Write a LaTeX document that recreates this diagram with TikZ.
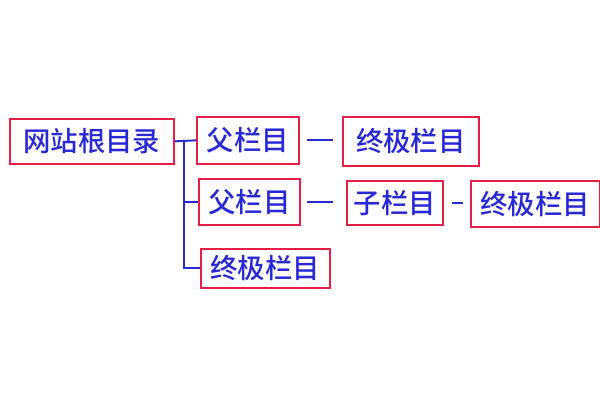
\documentclass[tikz,border=0pt]{standalone}
\usepackage{fontspec}
\newfontfamily\cjk{Noto Sans CJK SC Medium}
\begin{document}
\begin{tikzpicture}[x=0.025cm,y=-0.025cm]

	% colours
	\definecolor{lineBlue}{RGB}{40,40,215}
	\definecolor{boxRed}{RGB}{228,30,70}
	\tikzset{
		dirBox/.style={draw=boxRed, line width=1.2pt, text=lineBlue, font=\cjk\fontsize{19.5}{20}\selectfont,
			inner sep=0pt, anchor=north west},
		link/.style={lineBlue, line width=1.4pt}
	}
	\useasboundingbox (0,0) rectangle (600,400);

	% boxes, placed at the pixel corners of the original
	\node[dirBox, minimum width=164*0.025cm, minimum height=45*0.025cm] (root) at (9,118) {网站根目录};
	\node[dirBox, minimum width=102*0.025cm, minimum height=47*0.025cm] (parentA) at (196,116) {父栏目};
	\node[dirBox, minimum width=136*0.025cm, minimum height=49*0.025cm] (leafA) at (342,116) {终极栏目};
	\node[dirBox, minimum width=101*0.025cm, minimum height=46*0.025cm] (parentB) at (198,178) {父栏目};
	\node[dirBox, minimum width=96*0.025cm, minimum height=44*0.025cm] (child) at (346,180) {子栏目};
	\node[dirBox, minimum width=129*0.025cm, minimum height=46*0.025cm] (leafB) at (470,180) {终极栏目};
	\node[dirBox, minimum width=129*0.025cm, minimum height=39*0.025cm] (leafC) at (200,248) {终极栏目};

	% tree branch from the root
	\coordinate (fork) at (184,141);
	\draw[link] (root.east) -- (parentA.west);
	\draw[link] (fork) |- (leafC.west);
	\draw[link] (fork |- parentB.west) -- (parentB.west);

	% short dashes between siblings
	\draw[link] ([xshift=7*0.025cm]parentA.east) -- ([xshift=-9*0.025cm]leafA.west |- parentA.east);
	\draw[link] ([xshift=6*0.025cm]parentB.east) -- ([xshift=-13*0.025cm]child.west |- parentB.east);
	\draw[link] ([xshift=8*0.025cm]child.east) -- ([xshift=-7*0.025cm]leafB.west |- child.east);

\end{tikzpicture}
\end{document}
